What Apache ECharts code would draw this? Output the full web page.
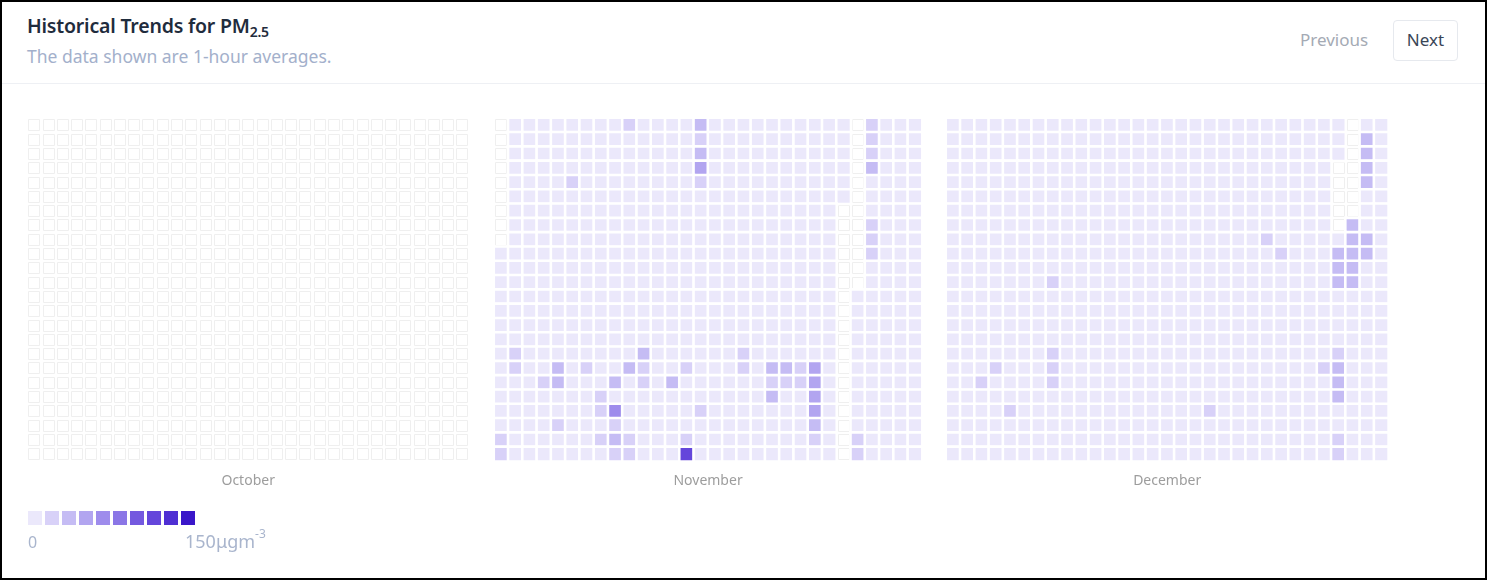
<!DOCTYPE html>
<html lang="en">
<head>
    <meta charset="utf-8" />
    <title>Historical Trends for PM2.5</title>
    <script src="https://cdn.jsdelivr.net/npm/echarts@6/dist/echarts.min.js"></script>
    <style>
        html, body { margin: 0; padding: 0; background: #fff; }
        #page { position: relative; width: 1487px; height: 580px; overflow: hidden; font-family: "Noto Sans", "Open Sans", sans-serif; }
        #frame { position: absolute; left: 0; top: 0; width: 1487px; height: 580px; box-sizing: border-box; border: 2px solid #000; pointer-events: none; }
        #head { position: absolute; left: 0; top: 0; width: 1487px; height: 83px; border-bottom: 1px solid #eef0f4; }
        #head h1 { position: absolute; left: 27px; top: 12px; margin: 0; font-size: 19.5px; font-weight: 600; color: #1f2c3d; letter-spacing: -0.2px; }
        #head h1 sub { font-size: 14px; vertical-align: -4px; line-height: 0; }
        #head p { position: absolute; left: 27px; top: 44px; margin: 0; font-size: 17.5px; color: #a3b0cb; }
        #prev { position: absolute; left: 1300px; top: 28px; font-size: 17px; color: #a4aab4; }
        #next { position: absolute; left: 1393px; top: 20px; width: 65px; height: 41px; box-sizing: border-box; border: 1px solid #e6e9ee; border-radius: 4px; font-size: 17px; color: #3a4657; text-align: center; line-height: 38px; }
        #chart { position: absolute; left: 0; top: 0; width: 1487px; height: 580px; }
    </style>
</head>
<body>
<div id="page">
    <div id="head">
        <h1>Historical Trends for PM<sub>2.5</sub></h1>
        <p>The data shown are 1-hour averages.</p>
        <div id="prev">Previous</div>
        <div id="next">Next</div>
    </div>
    <div id="chart"></div>
    <div id="frame"></div>
</div>
<script>
    // month names and the hour rows (row 0 at the top)
    var months = ['October', 'November', 'December'];
    var hours = ['0', '1', '2', '3', '4', '5', '6', '7', '8', '9', '10', '11', '12', '13', '14', '15', '16', '17', '18', '19', '20', '21', '22', '23'];

    // legend bins (ugm-3) and their colours
    var binEdges = [0, 15, 30, 45, 60, 75, 90, 105, 120, 135, 150];
    var binColors = ['#ebe8fb', '#d8d1f8', '#c5bcf4', '#b2a5f0', '#9e8cec', '#8b76e6', '#7459df', '#6446db', '#4f2fd3', '#3a16c9'];
    // value read for each colour code 1..10
    var binValues = [7, 22, 37, 52, 67, 82, 97, 112, 127, 142];

    // one string per hour, one char per day: '.' = no data, 1..9 = colour code (spaces only for reading)
    var octRows = [
        '..... ..... ..... ..... ..... ..... .',
        '..... ..... ..... ..... ..... ..... .',
        '..... ..... ..... ..... ..... ..... .',
        '..... ..... ..... ..... ..... ..... .',
        '..... ..... ..... ..... ..... ..... .',
        '..... ..... ..... ..... ..... ..... .',
        '..... ..... ..... ..... ..... ..... .',
        '..... ..... ..... ..... ..... ..... .',
        '..... ..... ..... ..... ..... ..... .',
        '..... ..... ..... ..... ..... ..... .',
        '..... ..... ..... ..... ..... ..... .',
        '..... ..... ..... ..... ..... ..... .',
        '..... ..... ..... ..... ..... ..... .',
        '..... ..... ..... ..... ..... ..... .',
        '..... ..... ..... ..... ..... ..... .',
        '..... ..... ..... ..... ..... ..... .',
        '..... ..... ..... ..... ..... ..... .',
        '..... ..... ..... ..... ..... ..... .',
        '..... ..... ..... ..... ..... ..... .',
        '..... ..... ..... ..... ..... ..... .',
        '..... ..... ..... ..... ..... ..... .',
        '..... ..... ..... ..... ..... ..... .',
        '..... ..... ..... ..... ..... ..... .',
        '..... ..... ..... ..... ..... ..... .'
    ];
    var novRows = [
        '.1111 11112 11113 11111 11111 .2111',
        '.1111 11111 11112 11111 11111 .2111',
        '.1111 11111 11113 11111 11111 .2111',
        '.1111 11111 11114 11111 11111 .3111',
        '.1111 21111 11112 11111 11111 .1111',
        '.1111 11111 11111 11111 11111 .1111',
        '.1111 11111 11111 11111 1111. .1111',
        '.1111 11111 11111 11111 1111. .2111',
        '.1111 11111 11111 11111 1111. .2111',
        '11111 11111 11111 11111 1111. .2111',
        '11111 11111 11111 11111 1111. .1111',
        '11111 11111 11111 11111 1111. .1111',
        '11111 11111 11111 11111 1111. 11111',
        '11111 11111 11111 11111 1111. 11111',
        '11111 11111 11111 11111 1111. 11111',
        '11111 11111 11111 11111 1111. 11111',
        '12111 11111 31111 11211 1111. 11111',
        '12113 12113 21121 11213 3241. 11111',
        '11123 11131 21311 11112 2241. 11111',
        '11111 11211 11111 11113 1141. 11111',
        '11111 11251 11112 11111 1141. 11111',
        '11112 11121 11111 11111 1131. 11111',
        '21111 11232 11121 11111 1121. 21111',
        '21111 11122 11181 11111 1111. 21111'
    ];
    var decRows = [
        '11111 11111 11111 11111 11111 111.1 1',
        '11111 11111 11111 11111 11111 111.3 1',
        '11111 11111 11111 11111 11111 111.3 1',
        '11111 11111 11111 11111 11111 11..3 1',
        '11111 11111 11111 11111 11111 11..3 1',
        '11111 11111 11111 11111 11111 11..1 1',
        '11111 11111 11111 11111 11111 11..1 1',
        '11111 11111 11111 11111 11111 11.31 1',
        '11111 11111 11111 11111 11211 11133 1',
        '11111 11111 11111 11111 11121 11333 1',
        '11111 11111 11111 11111 11111 11331 1',
        '11111 11211 11111 11111 11111 11331 1',
        '11111 11111 11111 11111 11111 11111 1',
        '11111 11111 11111 11111 11111 11111 1',
        '11111 11111 11111 11111 11111 11111 1',
        '11111 11111 11111 11111 11111 11111 1',
        '11111 11211 11111 11111 11111 11211 1',
        '11121 11211 11111 11111 11111 12311 1',
        '11211 11211 11111 11111 11111 11311 1',
        '11111 11111 11111 11111 11111 11311 1',
        '11112 11111 11111 11121 11111 11111 1',
        '11111 11111 11111 11111 11111 11111 1',
        '11111 11111 11111 11111 11111 11211 1',
        '11111 11111 11111 11111 11111 11211 1'
    ];
    var monthRows = [octRows, novRows, decRows];

    // split a month into cells with data and cells without
    function toCells(rows) {
        var filled = [], empty = [];
        rows.forEach(function (row, h) {
            var s = row.replace(/ /g, '');
            for (var d = 0; d < s.length; d++) {
                var c = s.charAt(d);
                if (c === '.') empty.push([d, h]);
                else filled.push([d, h, binValues[parseInt(c, 10) - 1]]);
            }
        });
        return { filled: filled, empty: empty, days: rows[0].replace(/ /g, '').length };
    }

    // no-data cell: white square with a faint grey outline, sized from the axes
    function emptyCell(params, api) {
        var p = api.coord([api.value(0), api.value(1)]);
        var s = api.size([1, 1]);
        var g = 1.3;
        return {
            type: 'rect',
            shape: { x: Math.round(p[0] - s[0] / 2 + g) + 0.5, y: Math.round(p[1] - s[1] / 2 + g) + 0.5, width: Math.round(s[0] - 2 * g) - 1, height: Math.round(s[1] - 2 * g) - 1 },
            style: { fill: '#ffffff', stroke: '#efefef', lineWidth: 1 }
        };
    }

    var grids = [], xAxes = [], yAxes = [], series = [], dataSeries = [];
    var gridLeft = [27, 494, 946];
    var cell = 14.27;

    monthRows.forEach(function (rows, i) {
        var cells = toCells(rows);
        var days = [];
        for (var d = 1; d <= cells.days; d++) days.push(String(d));
        grids.push({ left: gridLeft[i], top: 118, width: cells.days * cell, height: 24 * 14.3 });
        xAxes.push({
            type: 'category', gridIndex: i, data: days,
            axisLine: { show: false }, axisTick: { show: false }, axisLabel: { show: false }, splitLine: { show: false },
            name: months[i], nameLocation: 'middle', nameGap: 13,
            nameTextStyle: { color: '#9d9d9d', fontSize: 14, fontFamily: 'Noto Sans' }
        });
        yAxes.push({
            type: 'category', gridIndex: i, data: hours, inverse: true,
            axisLine: { show: false }, axisTick: { show: false }, axisLabel: { show: false }, splitLine: { show: false }
        });
        series.push({
            type: 'custom', xAxisIndex: i, yAxisIndex: i, data: cells.empty, silent: true,
            encode: { x: 0, y: 1 }, renderItem: emptyCell
        });
        dataSeries.push(series.length);
        series.push({
            type: 'heatmap', name: months[i], xAxisIndex: i, yAxisIndex: i, data: cells.filled,
            itemStyle: { borderColor: '#ffffff', borderWidth: 2.6 },
            emphasis: { disabled: true }
        });
    });

    var pieces = [];
    for (var k = 0; k < binColors.length; k++) {
        pieces.push({ min: binEdges[k], max: binEdges[k + 1], color: binColors[k] });
    }

    var chart = echarts.init(document.getElementById('chart'), null, { renderer: 'canvas' });
    chart.setOption({
        animation: false,
        grid: grids,
        xAxis: xAxes,
        yAxis: yAxes,
        visualMap: {
            type: 'piecewise', seriesIndex: dataSeries, orient: 'horizontal',
            left: 23, top: 506, padding: 5,
            itemWidth: 14, itemHeight: 14, itemGap: 3, itemSymbol: 'rect',
            showLabel: false, selectedMode: false, hoverLink: false,
            pieces: pieces
        },
        graphic: [
            { type: 'text', left: 28, top: 535, style: { text: '0', fill: '#a9b5cd', font: '16px "Noto Sans"' } },
            {
                type: 'text', left: 185, top: 529,
                style: {
                    text: '{n|150μgm}{s|-3}',
                    rich: {
                        n: { fill: '#a9b5cd', fontSize: 18, fontFamily: 'Noto Sans', verticalAlign: 'bottom', lineHeight: 23 },
                        s: { fill: '#a9b5cd', fontSize: 12, fontFamily: 'Noto Sans', verticalAlign: 'top', lineHeight: 23 }
                    }
                }
            }
        ],
        series: series
    });
</script>
</body>
</html>
